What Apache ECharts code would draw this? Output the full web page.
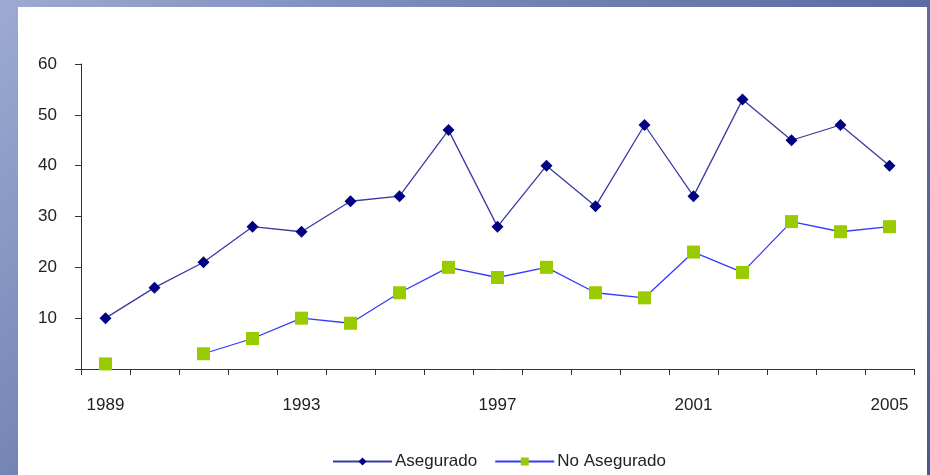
<!DOCTYPE html>
<html>
<head>
<meta charset="utf-8">
<script src="https://cdn.jsdelivr.net/npm/echarts@6/dist/echarts.min.js"></script>
<style>
  html, body { margin: 0; padding: 0; }
  body {
    width: 930px; height: 475px; overflow: hidden; position: relative;
    background: linear-gradient(135deg, #9dabd2 0%, #7585b6 34%, #5d6da2 66%, #4a5a96 100%);
  }
  .panel { position: absolute; left: 18px; top: 7px; width: 909px; height: 468px; background: #fff; }
  #chart { position: absolute; left: 0; top: 0; width: 930px; height: 475px; }
</style>
</head>
<body>
<div class="panel"></div>
<div id="chart"></div>
<script>
const years = ['1989', '1990', '1991', '1992', '1993', '1994', '1995', '1996', '1997',
  '1998', '1999', '2000', '2001', '2002', '2003', '2004', '2005']
const asegurado = [10, 16, 21, 28, 27, 33, 34, 47, 28, 40, 32, 48, 34, 53, 45, 48, 40]
const noAsegurado = [1, null, 3, 6, 10, 9, 15, 20, 18, 20, 15, 14, 23, 19, 29, 27, 28]

const chart = echarts.init(document.getElementById('chart'))
const labelFont = { fontFamily: 'Liberation Sans, Arial, sans-serif', fontSize: 17, color: '#222' }

chart.setOption({
  animation: false,
  grid: { left: 81, top: 64, right: 16, bottom: 106 },
  legend: {
    left: 327,
    top: 448,
    itemWidth: 59,
    itemHeight: 10,
    itemGap: 17,
    textStyle: { fontFamily: 'Liberation Sans, Arial, sans-serif', fontSize: 17, color: '#222', padding: [0, 0, 0, -2] },
    data: ['Asegurado', 'No Asegurado']
  },
  xAxis: {
    type: 'category',
    data: years,
    boundaryGap: true,
    axisLine: { lineStyle: { color: '#333', width: 1 } },
    axisTick: { show: true, length: 6, interval: 0, lineStyle: { color: '#333', width: 1 } },
    axisLabel: Object.assign({ interval: 3, margin: 28 }, labelFont)
  },
  yAxis: {
    type: 'value',
    min: 0,
    max: 60,
    interval: 10,
    splitLine: { show: false },
    axisLine: { show: true, lineStyle: { color: '#333', width: 1 } },
    axisTick: { show: true, length: 6, lineStyle: { color: '#333' } },
    axisLabel: Object.assign({ margin: 24, formatter: v => (v === 0 ? '' : v) }, labelFont)
  },
  series: [
    {
      name: 'Asegurado',
      type: 'line',
      data: asegurado,
      symbol: 'diamond',
      symbolSize: 12,
      itemStyle: { color: '#000080' },
      lineStyle: { color: '#3a3aa0', width: 1.3 }
    },
    {
      name: 'No Asegurado',
      type: 'line',
      data: noAsegurado,
      connectNulls: false,
      symbol: 'rect',
      symbolSize: 13,
      itemStyle: { color: '#99cc00' },
      lineStyle: { color: '#3838ff', width: 1.3 }
    }
  ]
})
</script>
</body>
</html>
